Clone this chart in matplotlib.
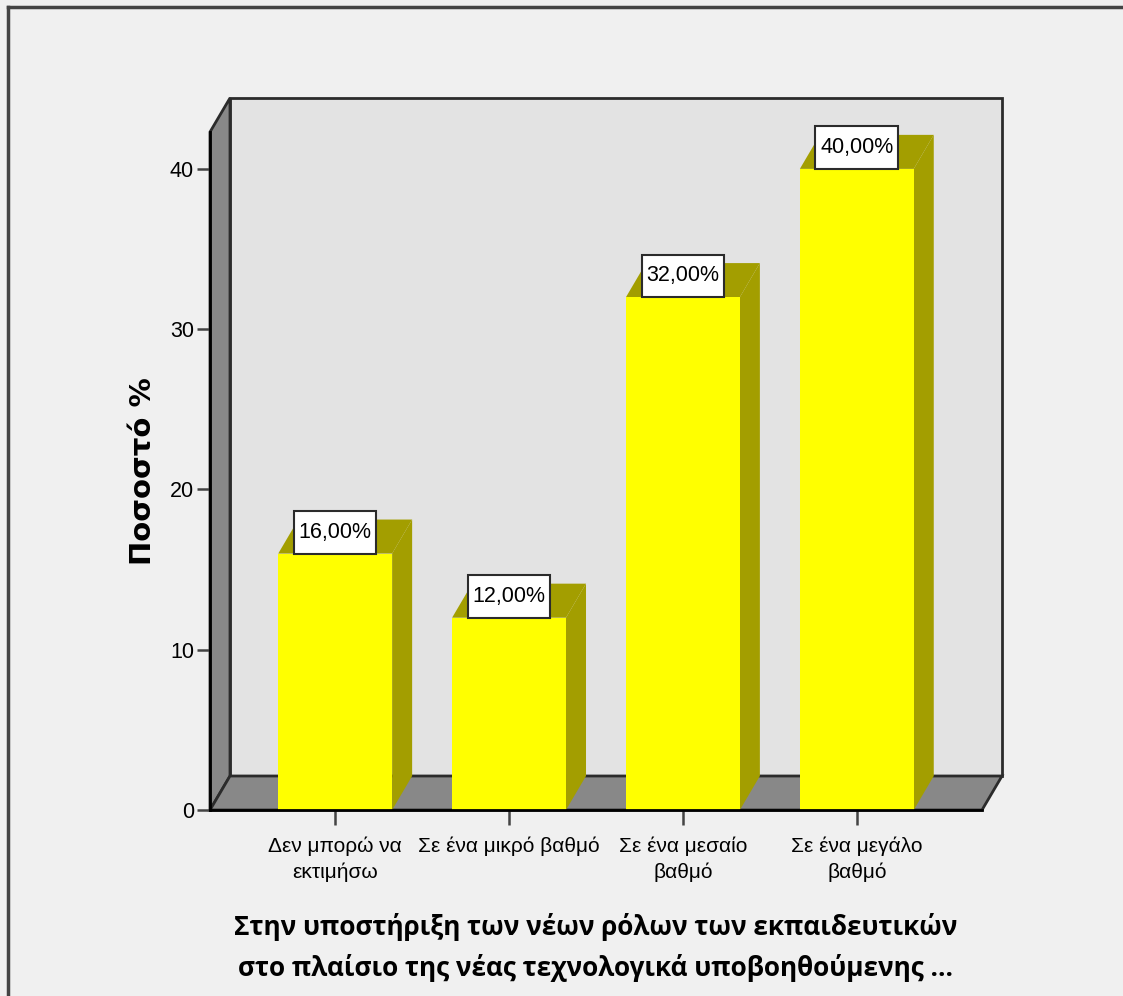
import numpy as np
import matplotlib.pyplot as plt
from matplotlib.patches import Polygon
from matplotlib.lines import Line2D
from matplotlib.path import Path

# Data
categories = ["Δεν μπορώ να\nεκτιμήσω", "Σε ένα μικρό βαθμό",
              "Σε ένα μεσαίο\nβαθμό", "Σε ένα μεγάλο\nβαθμό"]
percent = [16.0, 12.0, 32.0, 40.0]
yticks = [0, 10, 20, 30, 40]
ylabel = "Ποσοστό %"
xlabel = "Στην υποστήριξη των νέων ρόλων των εκπαιδευτικών\nστο πλαίσιο της νέας τεχνολογικά υποβοηθούμενης ..."

# Style
BG = "#f0f0f0"
WALL = "#e3e3e3"
SIDE_WALL = "#888888"
BAR_FRONT = "#ffff00"
BAR_SHADE = "#a39e00"
EDGE = "#2b2b2b"
DEPTH = (20, 34)  # pixels, right and up
NARROW = ["Liberation Sans", "DejaVu Sans"]

W, H = 1123, 996
fig = plt.figure(figsize=(W / 100, H / 100), dpi=100, facecolor=BG)
ax = fig.add_axes([210 / W, 1 - 810 / H, 772 / W, (810 - 132) / H])
ax.set_facecolor("none")
ax.set_xlim(-0.72, 3.72)
ax.set_ylim(0, 42.3)

x = np.arange(len(categories))


def back(px, py):
    # shift a data point into the back plane
    p = ax.transData.transform((px, py)) + np.array(DEPTH)
    return ax.transData.inverted().transform(p)


def tall_box(x0, y0, width, height, mutation_size):
    # label box: little side padding, more above and below
    padx, pady = 0.22 * mutation_size, 0.5 * mutation_size
    x0, y0 = x0 - padx, y0 - pady
    x1, y1 = x0 + width + 2 * padx, y0 + height + 2 * pady
    return Path([(x0, y0), (x1, y0), (x1, y1), (x0, y1), (x0, y0)], closed=True)


x0, x1 = ax.get_xlim()
y0, y1 = ax.get_ylim()

# back wall, left wall, floor
bw = [back(x0, y0), back(x1, y0), back(x1, y1), back(x0, y1)]
ax.add_patch(Polygon(bw, closed=True, fc=WALL, ec=EDGE, lw=2, clip_on=False, zorder=0))
lw_poly = [(x0, y0), (x0, y1), back(x0, y1), back(x0, y0)]
ax.add_patch(Polygon(lw_poly, closed=True, fc=SIDE_WALL, ec=EDGE, lw=2, clip_on=False, zorder=0.5))
fl = [(x0, y0), (x1, y0), back(x1, y0), back(x0, y0)]
ax.add_patch(Polygon(fl, closed=True, fc=SIDE_WALL, ec=EDGE, lw=2, clip_on=False, zorder=0.5))

# bars
width = 0.655
bars = ax.bar(x, percent, width=width, color=BAR_FRONT, edgecolor="none", zorder=3)
for rect in bars:
    bx0 = rect.get_x()
    bx1 = bx0 + rect.get_width()
    h = rect.get_height()
    side = [(bx1, 0), (bx1, h), back(bx1, h), back(bx1, 0)]
    top = [(bx0, h), (bx1, h), back(bx1, h), back(bx0, h)]
    ax.add_patch(Polygon(side, closed=True, fc=BAR_SHADE, ec="none", clip_on=False, zorder=2))
    ax.add_patch(Polygon(top, closed=True, fc=BAR_SHADE, ec="none", clip_on=False, zorder=2))

# value labels
fs_val = 15.5
for xi, v in zip(x, percent):
    txt = f"{v:.2f}".replace(".", ",") + "%"
    ax.annotate(txt, (xi, v), xytext=(0, 0.5 * fs_val), textcoords="offset points",
                ha="center", va="bottom", fontsize=fs_val, family=NARROW, color="black",
                bbox=dict(boxstyle=tall_box, fc="white", ec=EDGE, lw=1.5),
                zorder=5, annotation_clip=False)

# axes
for s in ["top", "right"]:
    ax.spines[s].set_visible(False)
for s in ["left", "bottom"]:
    ax.spines[s].set_linewidth(2)
    ax.spines[s].set_color("black")
    ax.spines[s].set_zorder(4)

ax.set_yticks(yticks)
ax.set_yticklabels([str(t) for t in yticks], family=NARROW, fontsize=15.5)
ax.set_xticks(x)
ax.set_xticklabels(categories, family=NARROW, fontsize=15, linespacing=1.4)
ax.tick_params(axis="y", length=9.5, width=1.8, color="#444444", pad=2)
ax.tick_params(axis="x", length=11, width=1.8, color="#444444", pad=8)

ax.set_ylabel(ylabel, fontsize=21, fontweight="bold", family="DejaVu Sans", va="center", ha="center")
ax.yaxis.set_label_coords(-0.087, 0.5)
ax.set_xlabel(xlabel, fontsize=18.8, fontweight="bold", family="Open Sans", linespacing=1.6)
ax.xaxis.set_label_coords(0.5, -0.152)

# outer frame
fig.add_artist(Line2D([8 / W, 8 / W], [0, 1 - 7 / H], transform=fig.transFigure, color="#444444", lw=2.5))
fig.add_artist(Line2D([8 / W, 1], [1 - 7 / H, 1 - 7 / H], transform=fig.transFigure, color="#444444", lw=2.5))

fig.savefig("out.png", dpi=100, facecolor=BG)
